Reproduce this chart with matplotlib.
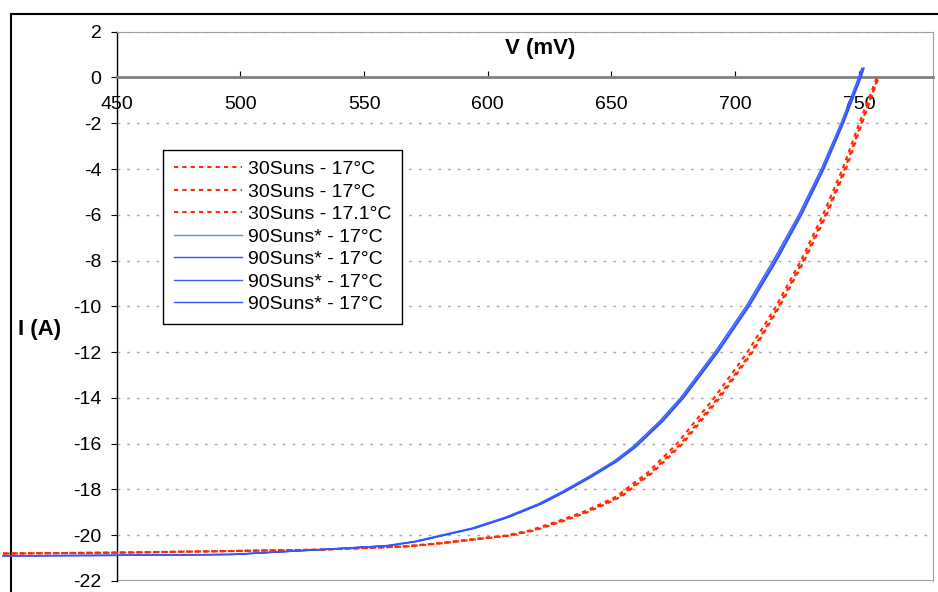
import matplotlib
matplotlib.use("Agg")
import matplotlib.pyplot as plt
from matplotlib.patches import Rectangle

plt.rcParams['font.family'] = ['Liberation Sans', 'DejaVu Sans']
plt.rcParams['axes.unicode_minus'] = False

# current levels (A) shared by each family of curves
i_red = [-20.80, -20.76, -20.70, -20.63, -20.49, -20.34, -20.17, -20.02, -19.79, -19.40,
         -19.03, -18.67, -18.31, -17.72, -17.28, -16.0, -14.0, -12.0, -10.0, -8.0,
         -6.0, -4.0, -2.0, 0.0]
i_blue = [-20.90, -20.88, -20.84, -20.63, -20.46, -20.27, -20.02, -19.69, -19.21, -18.62,
          -18.09, -17.43, -16.78, -16.12, -15.0, -14.0, -12.0, -10.0, -8.0, -6.0,
          -4.0, -2.0, 0.0, 0.4]

# voltages (mV), one list per measured curve
v_red1 = [404, 450, 490, 532, 566, 581, 594, 607, 617, 628,
          637.5, 645, 652, 659, 664.5, 676.5, 691.5, 705, 716.5, 726.6,
          735.5, 743.4, 750.2, 757.3]
v_red2 = [404, 451, 491, 533, 567, 582, 595, 608, 618, 629,
          638.5, 646.2, 653.3, 660.3, 665.8, 678, 693, 706.5, 717.5, 727.5,
          736.5, 744.3, 751.0, 757.8]
v_red3 = [405, 452, 492, 534, 567.5, 582.5, 596, 609, 619, 630,
          639.5, 647, 654, 661, 666.5, 678.8, 693.8, 707, 718, 728,
          737, 744.8, 751.3, 758.0]

v_blue1 = [404, 450, 497, 532, 559.4, 571, 581, 594.3, 607.9, 621.3,
           630.8, 641.6, 651.5, 659.5, 670.3, 678.5, 692.4, 705.0, 716.0, 726.2,
           735.3, 743.3, 750.4, 751.7]
v_blue2 = [404, 450, 498, 533, 560, 571.7, 581.8, 595, 608.6, 622,
           631.5, 642.3, 652.2, 660.2, 671.0, 679.2, 693.1, 705.7, 716.8, 726.9,
           735.9, 743.8, 750.9, 752.1]
v_blue3 = [404, 450, 496, 531, 558.5, 570.3, 580.3, 593.6, 607.2, 620.6,
           630.1, 640.9, 650.8, 658.8, 669.6, 677.9, 691.8, 704.4, 715.4, 725.7,
           734.8, 742.8, 749.9, 751.2]
v_blue4 = [404, 450, 497, 532.5, 559.8, 571.4, 581.4, 594.7, 608.3, 621.7,
           631.2, 642, 651.9, 659.8, 670.6, 678.8, 692.8, 705.4, 716.4, 726.6,
           735.6, 743.5, 750.6, 751.9]

red_labels = ['30Suns - 17°C', '30Suns - 17°C', '30Suns - 17.1°C']
blue_labels = ['90Suns* - 17°C'] * 4

xticks = [450, 500, 550, 600, 650, 700, 750]
yticks = list(range(-22, 3, 2))

fig = plt.figure(figsize=(9.38, 5.92), dpi=100)
ax = fig.add_axes([0.1245, 0.0186, 0.8702, 0.9279])

red = '#ff2a00'
blue_colors = ['#6a86ff', '#2a4dff', '#3a5cff', '#3355ff']

for v, lab in zip([v_red1, v_red2, v_red3], red_labels):
    ax.plot(v, i_red, color=red, lw=1.5, dashes=(2, 2), label=lab, clip_on=False, zorder=3)
for v, lab, c in zip([v_blue1, v_blue2, v_blue3, v_blue4], blue_labels, blue_colors):
    ax.plot(v, i_blue, color=c, lw=1.0, label=lab, clip_on=False, zorder=3)

ax.set_xlim(450, 780)
ax.set_ylim(-22, 2)
ax.set_xticks(xticks)
ax.set_yticks(yticks)
ax.tick_params(axis='x', direction='in', length=4, pad=13, labelsize=14)
ax.tick_params(axis='y', direction='out', length=4, pad=7, labelsize=14)

ax.yaxis.grid(True, color='#a8a8a8', linestyle=(0, (2, 5)), lw=1)
ax.set_axisbelow(True)

ax.spines['left'].set_color('black')
ax.spines['left'].set_linewidth(1.0)
ax.spines['bottom'].set_position(('data', 0))
ax.spines['bottom'].set_color('#808080')
ax.spines['bottom'].set_linewidth(2.0)
ax.spines['top'].set_color('#a0a0a0')
ax.spines['right'].set_color('#a0a0a0')
ax.axhline(-22, color='#a0a0a0', lw=1.5, zorder=2)

ax.text(621, 1.25, 'V (mV)', ha='center', va='center', fontsize=16, fontweight='bold')
fig.text(40 / 938, 1 - 329 / 592, 'I (A)', ha='center', va='center', fontsize=16, fontweight='bold')

leg = ax.legend(loc='upper left', bbox_to_anchor=(0.0566, 0.7846), borderaxespad=0,
                fontsize=14, handlelength=3.5, handletextpad=0.3, labelspacing=0.25,
                borderpad=0.55, fancybox=False, framealpha=1, edgecolor='black')
leg.get_frame().set_linewidth(1.0)

# outer chart frame, cut off by the image edge on the right and bottom
fig.patches.append(Rectangle((11 / 938, -0.5), 2, 1 - 14 / 592 + 0.5, transform=fig.transFigure,
                             fill=False, ec='black', lw=1.5, zorder=-1))

fig.savefig('out.png', dpi=100)
